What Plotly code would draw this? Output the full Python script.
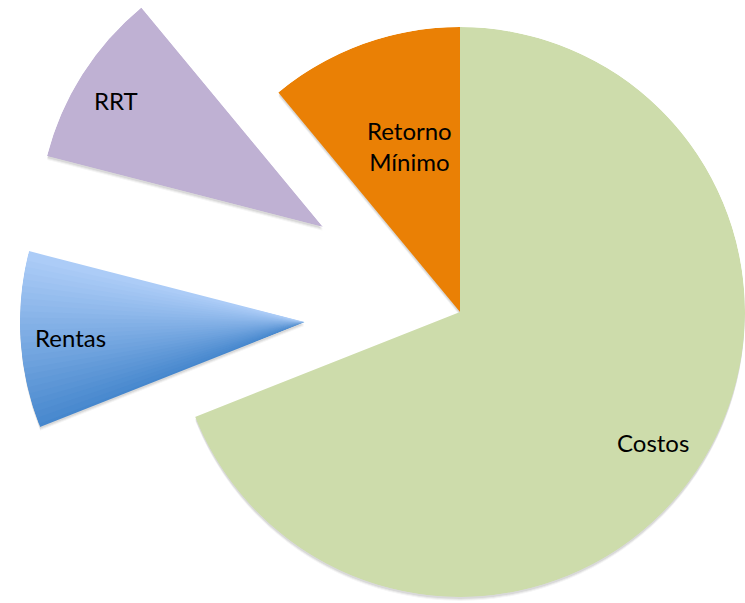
import math
import plotly.graph_objects as go

# shares of the pie, clockwise from 12 o'clock
labels = ["Costos", "Rentas", "RRT", "Retorno Mínimo"]
values = [69, 10, 10, 11]
colors = ["#CDDCAB", "#7BABE5", "#BFB1D3", "#EA8005"]
exploded = ["Rentas", "RRT"]

W, H = 745, 603
R = 285  # pie radius in px
center = (460, 312)
# where the tip of each pulled-out slice sits
tips = {"Rentas": (305, 322), "RRT": (323, 227)}
# Rentas is drawn with a light-to-dark blue fade like the original
rentas_fade = ((70, 135, 205), (172, 204, 247))

total = sum(values)
spans = [v / total * 360 for v in values]
starts = [sum(spans[:i]) for i in range(len(spans))]
mids = [s + w / 2 for s, w in zip(starts, spans)]


def sector_bbox(s0, s1):
    # bounding box (unit circle, y up) of a sector including the origin
    pts = [(0.0, 0.0)]
    for a in (s0, s1):
        pts.append((math.cos(math.radians(a)), math.sin(math.radians(a))))
    a = math.ceil(s0 / 90) * 90
    while a <= s1:
        pts.append((math.cos(math.radians(a)), math.sin(math.radians(a))))
        a += 90
    xs = [p[0] for p in pts]
    ys = [p[1] for p in pts]
    return min(xs), min(ys), max(xs), max(ys)


def domain_for(origin, s0, s1):
    bx0, by0, bx1, by1 = sector_bbox(s0, s1)
    ox, oy = origin
    x0, x1 = ox + R * bx0, ox + R * bx1
    ytop, ybot = oy - R * by1, oy - R * by0
    return dict(x=[max(0, x0 / W), min(1, x1 / W)],
                y=[max(0, 1 - ybot / H), min(1, 1 - ytop / H)])


def polar_style(dom, sector):
    return dict(
        domain=dom,
        sector=sector,
        bgcolor="rgba(0,0,0,0)",
        radialaxis=dict(visible=False, range=[0, 1]),
        angularaxis=dict(visible=False, rotation=90, direction="clockwise"),
    )


# groups of slices that share one origin
groups = [(center, [i for i, l in enumerate(labels) if l not in exploded], [0, 360])]
for name in exploded:
    i = labels.index(name)
    s0 = (90 - (starts[i] + spans[i])) % 360
    groups.append((tips[name], [i], [s0, s0 + spans[i]]))

fig = go.Figure()
polars = {}
counter = [0]


def new_polar(origin, sector):
    counter[0] += 1
    key = "polar" if counter[0] == 1 else "polar%d" % counter[0]
    polars[key] = polar_style(domain_for(origin, *sector), sector)
    return key


# soft drop shadow: a few faint copies nudged downwards
for dy, alpha in [(4, 0.035), (3, 0.05), (2, 0.065)]:
    for origin, idx, sector in groups:
        key = new_polar((origin[0], origin[1] + dy), sector)
        fig.add_trace(go.Barpolar(
            r=[1] * len(idx),
            theta=[mids[i] for i in idx],
            width=[spans[i] for i in idx],
            marker=dict(color="rgba(0,0,0,%s)" % alpha, line=dict(width=0)),
            hoverinfo="skip",
            subplot=key,
            showlegend=False,
        ))

for origin, idx, sector in groups:
    key = new_polar(origin, sector)
    for i in idx:
        if labels[i] == "Rentas":
            n = 28
            step = spans[i] / n
            th = [starts[i] + step * (k + 0.5) for k in range(n)]
            lo, hi = rentas_fade
            cols = ["rgb(%d,%d,%d)" % tuple(round(lo[c] + (hi[c] - lo[c]) * k / (n - 1))
                                             for c in range(3)) for k in range(n)]
            # overlapping bands hide the seams; the sector clips the outer ones
            fig.add_trace(go.Barpolar(
                r=[1] * n, theta=th, width=[step * 2] * n,
                marker=dict(color=cols, line=dict(width=0)),
                hovertext=[labels[i]] * n, hoverinfo="text",
                subplot=key, showlegend=False,
            ))
        else:
            fig.add_trace(go.Barpolar(
                r=[1], theta=[mids[i]], width=[spans[i]],
                marker=dict(color=colors[i], line=dict(width=0)),
                hovertext=[labels[i]], hoverinfo="text",
                subplot=key, showlegend=False,
            ))

fig.update_layout(**polars)

# slice labels
label_pos = {
    "Costos": (653, 442),
    "Rentas": (70, 337),
    "RRT": (116, 100),
    "Retorno Mínimo": (409, 146),
}
for name, (px, py) in label_pos.items():
    fig.add_annotation(
        x=px / W, y=1 - py / H, xref="paper", yref="paper",
        xanchor="center", yanchor="middle",
        text=name.replace(" ", "<br>"), showarrow=False,
        font=dict(family="Lato", size=24, color="black"),
        align="center",
    )

fig.update_layout(
    width=W, height=H,
    margin=dict(l=0, r=0, t=0, b=0),
    paper_bgcolor="white",
    plot_bgcolor="white",
    showlegend=False,
)

fig.write_html("out.html", config={"displayModeBar": False},
               post_script="document.body.style.margin = '0px';")
